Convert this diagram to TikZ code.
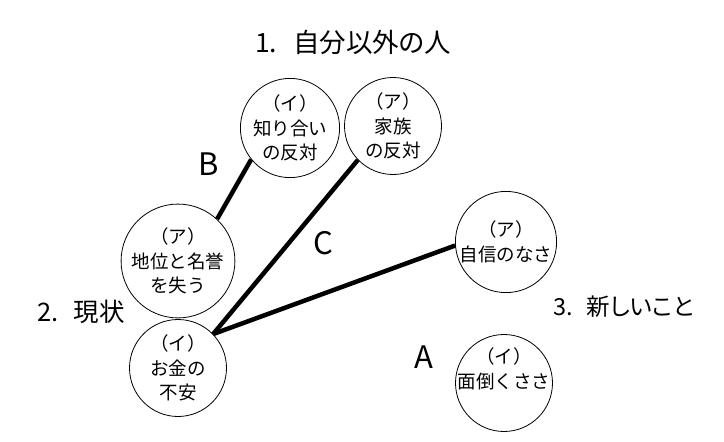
\documentclass[tikz,border=0pt]{standalone}
\usepackage{fontspec}
\setmainfont{Noto Sans CJK JP}
\newfontfamily\ttlfont[RawFeature=+palt]{Noto Sans CJK JP}
\begin{document}
\begin{tikzpicture}[x=1pt,y=-1pt,
  circ/.style={draw, circle, minimum size=97pt, inner sep=0pt, align=center,
    font=\fontsize{18.5}{24.5}\selectfont, line width=0.8pt},
  txt/.style={align=center, inner sep=0pt, font=\fontsize{18.5}{24.5}\selectfont},
  ttl/.style={inner sep=0pt, anchor=west, font=\ttlfont\fontsize{25.5}{28}\selectfont},
  lbl/.style={inner sep=0pt, font=\fontsize{31}{34}\selectfont},
  link/.style={line width=4.5pt}]
\useasboundingbox[fill=white] (0,0) rectangle (724,442);
\node[ttl, font=\ttlfont\fontsize{26.5}{28}\selectfont] (t1) at (255,42) {1.\hspace{0.6em}自分以外の人};
\node[ttl] (t2) at (37,312) {2.\hspace{0.6em}現状};
\node[ttl, font=\ttlfont\fontsize{23.5}{28}\selectfont] (t3) at (553,307) {3.\hspace{0.6em}新しいこと};
\node[circ] (c1) at (290,128) {（イ）\\知り合い\\の反対};
\node[circ] (c2) at (393,126) {（ア）\\家族\\の反対};
\node[circ] (c3) at (178,261) {（ア）\\地位と名誉\\を失う};
\node[circ] (c4) at (178,368) {（イ）\\お金の\\不安};
\node[circ] (c5) at (506,242) {（ア）\\自信のなさ};
\node[circ] (c6) at (504,383) {};
\node[txt] (c6t) at (504,369) {（イ）\\面倒くささ};
\node[lbl] (la) at (424,357) {A};
\node[lbl] (lb) at (209,164) {B};
\node[lbl] (lc) at (323,243) {C};
\draw[link] (c3.47) -- (c1.219);
\draw[link] (c4.44) -- (c2.224);
\draw[link] (c4.44) -- (c5.184);
\end{tikzpicture}
\end{document}
